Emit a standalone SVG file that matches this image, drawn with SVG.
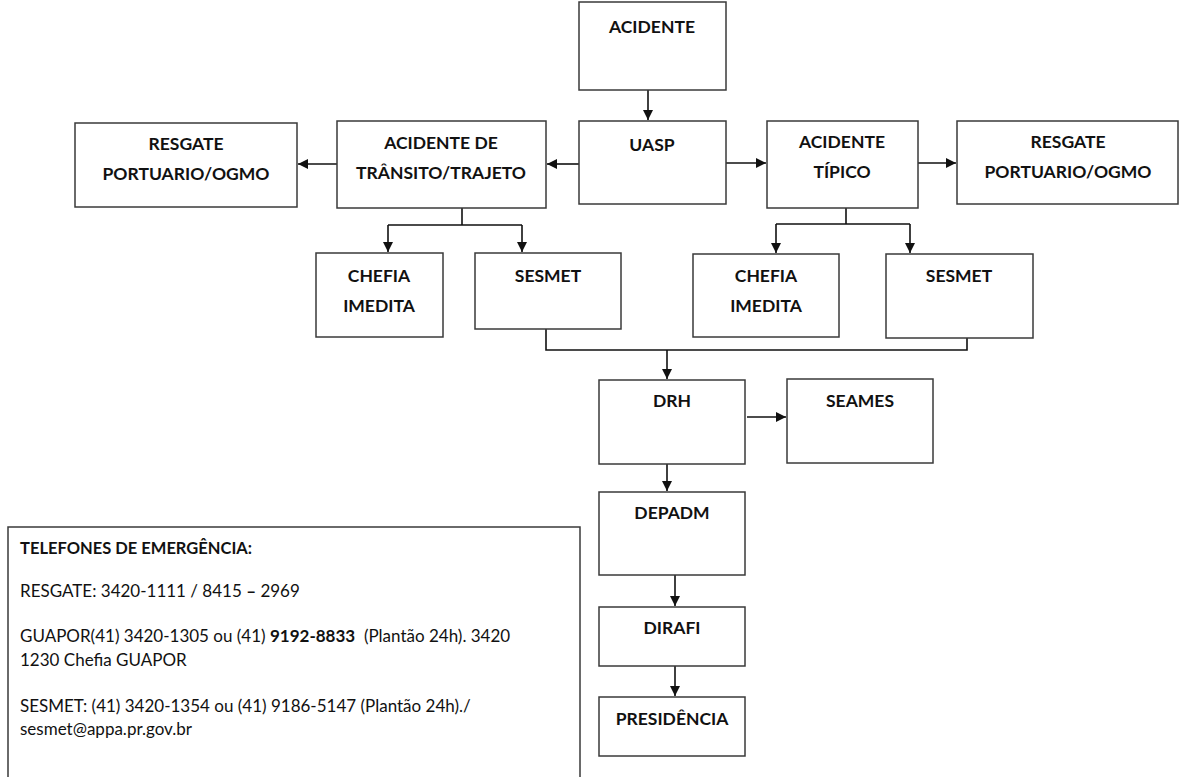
<svg xmlns="http://www.w3.org/2000/svg" width="1179" height="777" viewBox="0 0 1179 777">
<style>
  .box { fill: #ffffff; stroke: #3a3a3a; stroke-width: 1.5; }
  .lbl { font-family: Lato, "Liberation Sans", sans-serif; font-weight: bold; font-size: 17.5px; fill: #111; text-anchor: middle; }
  .con { fill: none; stroke: #111; stroke-width: 1.6; }
  .note { font-family: Lato, "Liberation Sans", sans-serif; font-size: 17px; fill: #111; }
</style>
<defs>
  <marker id="arr" viewBox="0 0 10 10" refX="10" refY="5" markerWidth="10" markerHeight="10" markerUnits="userSpaceOnUse" orient="auto">
    <path d="M0,0 L10,5 L0,10 z" fill="#111"/>
  </marker>
</defs>
<rect width="1179" height="777" fill="#ffffff"/>

<g id="connectors">
  <line class="con" x1="648" y1="90" x2="648" y2="120" marker-end="url(#arr)"/>
  <line class="con" x1="579" y1="164" x2="547" y2="164" marker-end="url(#arr)"/>
  <line class="con" x1="337" y1="164" x2="298" y2="164" marker-end="url(#arr)"/>
  <line class="con" x1="726" y1="163" x2="766" y2="163" marker-end="url(#arr)"/>
  <line class="con" x1="918" y1="163" x2="956" y2="163" marker-end="url(#arr)"/>
  <path class="con" d="M462,208 V225 M388,225 H522"/>
  <line class="con" x1="388" y1="225" x2="388" y2="252" marker-end="url(#arr)"/>
  <line class="con" x1="522" y1="225" x2="522" y2="252" marker-end="url(#arr)"/>
  <path class="con" d="M846,208 V224 M776,224 H910"/>
  <line class="con" x1="776" y1="224" x2="776" y2="253" marker-end="url(#arr)"/>
  <line class="con" x1="910" y1="224" x2="910" y2="253" marker-end="url(#arr)"/>
  <path class="con" d="M546,329 V350 H967 V338"/>
  <line class="con" x1="667" y1="350" x2="667" y2="379" marker-end="url(#arr)"/>
  <line class="con" x1="747" y1="417" x2="786" y2="417" marker-end="url(#arr)"/>
  <line class="con" x1="667" y1="464" x2="667" y2="491" marker-end="url(#arr)"/>
  <line class="con" x1="675" y1="575" x2="675" y2="606" marker-end="url(#arr)"/>
  <line class="con" x1="675" y1="666" x2="675" y2="696" marker-end="url(#arr)"/>
</g>

<g id="acidente">
  <rect class="box" x="579" y="2" width="147" height="88"/>
  <text class="lbl" x="652" y="33">ACIDENTE</text>
</g>
<g id="uasp">
  <rect class="box" x="579" y="121" width="147" height="83"/>
  <text class="lbl" x="652" y="151">UASP</text>
</g>
<g id="acidente-transito">
  <rect class="box" x="337" y="121" width="209" height="87"/>
  <text class="lbl" x="441" y="149">ACIDENTE DE</text>
  <text class="lbl" x="441" y="179">TRÂNSITO/TRAJETO</text>
</g>
<g id="resgate-esq">
  <rect class="box" x="75" y="123" width="222" height="84"/>
  <text class="lbl" x="186" y="150">RESGATE</text>
  <text class="lbl" x="186" y="180">PORTUARIO/OGMO</text>
</g>
<g id="acidente-tipico">
  <rect class="box" x="767" y="121" width="151" height="87"/>
  <text class="lbl" x="842" y="148">ACIDENTE</text>
  <text class="lbl" x="842" y="178">TÍPICO</text>
</g>
<g id="resgate-dir">
  <rect class="box" x="957" y="121" width="221" height="83"/>
  <text class="lbl" x="1068" y="148">RESGATE</text>
  <text class="lbl" x="1068" y="178">PORTUARIO/OGMO</text>
</g>
<g id="chefia-esq">
  <rect class="box" x="316" y="253" width="127" height="84"/>
  <text class="lbl" x="379" y="282">CHEFIA</text>
  <text class="lbl" x="379" y="312">IMEDITA</text>
</g>
<g id="sesmet-esq">
  <rect class="box" x="475" y="253" width="146" height="76"/>
  <text class="lbl" x="548" y="282">SESMET</text>
</g>
<g id="chefia-dir">
  <rect class="box" x="693" y="254" width="146" height="83"/>
  <text class="lbl" x="766" y="282">CHEFIA</text>
  <text class="lbl" x="766" y="312">IMEDITA</text>
</g>
<g id="sesmet-dir">
  <rect class="box" x="886" y="254" width="147" height="84"/>
  <text class="lbl" x="959" y="282">SESMET</text>
</g>
<g id="drh">
  <rect class="box" x="599" y="380" width="146" height="84"/>
  <text class="lbl" x="672" y="407">DRH</text>
</g>
<g id="seames">
  <rect class="box" x="787" y="379" width="146" height="84"/>
  <text class="lbl" x="860" y="407">SEAMES</text>
</g>
<g id="depadm">
  <rect class="box" x="599" y="492" width="146" height="83"/>
  <text class="lbl" x="672" y="519">DEPADM</text>
</g>
<g id="dirafi">
  <rect class="box" x="599" y="607" width="146" height="59"/>
  <text class="lbl" x="672" y="634">DIRAFI</text>
</g>
<g id="presidencia">
  <rect class="box" x="599" y="697" width="146" height="59"/>
  <text class="lbl" x="672" y="725">PRESIDÊNCIA</text>
</g>

<g id="telefones">
  <rect class="box" x="8" y="527" width="572" height="270"/>
  <text class="note" x="20" y="554" font-weight="bold" textLength="232" lengthAdjust="spacingAndGlyphs">TELEFONES DE EMERGÊNCIA:</text>
  <text class="note" x="20" y="597">RESGATE: 3420-1111 / 8415 <tspan font-weight="bold">–</tspan> 2969</text>
  <text class="note" x="20" y="642" xml:space="preserve">GUAPOR(41) 3420-1305 ou (41) <tspan font-weight="bold">9192-8833</tspan>  (Plantão 24h). 3420</text>
  <text class="note" x="20" y="666">1230 Chefia GUAPOR</text>
  <text class="note" x="20" y="712">SESMET: (41) 3420-1354 ou (41) 9186-5147 (Plantão 24h)./</text>
  <text class="note" x="20" y="735">sesmet@appa.pr.gov.br</text>
</g>
</svg>
